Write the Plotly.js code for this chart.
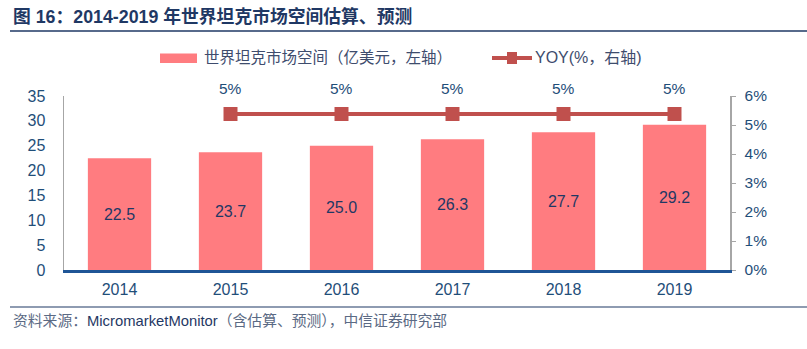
<!DOCTYPE html>
<html>
<head>
<meta charset="utf-8">
<script src="https://cdn.plot.ly/plotly-3.0.1.min.js"></script>
<style>html,body{margin:0;padding:0;background:#fff;}#chart{width:807px;height:349px;}</style>
</head>
<body>
<div id="chart"></div>
<script>
const years = ['2014', '2015', '2016', '2017', '2018', '2019'];
const marketSize = [22.5, 23.7, 25.0, 26.3, 27.7, 29.2];
const yoyYears = ['2015', '2016', '2017', '2018', '2019'];
const yoy = [0.0538, 0.0538, 0.0538, 0.0538, 0.0538];
const leftTicks = [0, 5, 10, 15, 20, 25, 30, 35];
const rightTicks = [0, 0.01, 0.02, 0.03, 0.04, 0.05, 0.06];

const titleText = '图 16：2014-2019 年世界坦克市场空间估算、预测';
const barName = '世界坦克市场空间（亿美元，左轴）';
const lineName = 'YOY(%，右轴)';
const sourceText = '<span style="color:#5b6a84">资料来源：</span>MicromarketMonitor<span style="color:#5b6a84">（含估算、预测），中信证券研究部</span>';

const FONT = 'Liberation Sans, Arial, Noto Sans CJK SC, sans-serif';
const BLUE = '#1F4E79';
const NAVY = '#1F3864';
const BAR = '#FF7C80';
const RED = '#C0504D';

// plot area in pixels
const L = 64, R = 730, T = 96, B = 270, W = 807, H = 349;
const px = x => (x - L) / (R - L);
const py = y => (B - y) / (B - T);

const traces = [
  {
    type: 'bar', x: years, y: marketSize, name: barName,
    marker: {color: BAR}, width: 0.57,
    texttemplate: '%{y:.1f}', textposition: 'inside', insidetextanchor: 'middle',
    textfont: {color: NAVY, size: 16, family: FONT},
    hoverinfo: 'skip', showlegend: false
  },
  {
    type: 'scatter', mode: 'lines+markers', x: yoyYears, y: yoy, yaxis: 'y2', name: lineName,
    line: {color: RED, width: 4},
    marker: {symbol: 'square', size: 14, color: RED},
    hoverinfo: 'skip', showlegend: false
  }
];

const annotations = [];
for (let i = 0; i < yoy.length; i++) {
  annotations.push({
    x: years.indexOf(yoyYears[i]), y: yoy[i], xref: 'x', yref: 'y2', yshift: 25,
    text: Math.round(yoy[i] * 100) + '%', showarrow: false,
    font: {color: BLUE, size: 15.5, family: FONT}
  });
}

annotations.push(
  {xref: 'paper', yref: 'paper', x: px(11), y: py(17), xanchor: 'left', yanchor: 'middle',
   text: '<b>' + titleText + '</b>', showarrow: false,
   font: {size: 17.8, color: NAVY, family: FONT}},
  {xref: 'paper', yref: 'paper', x: px(202), y: py(58), xanchor: 'left', yanchor: 'middle',
   text: barName, showarrow: false, font: {size: 15.5, color: '#3E4C6D', family: FONT}},
  {xref: 'paper', yref: 'paper', x: px(533), y: py(58), xanchor: 'left', yanchor: 'middle',
   text: lineName, showarrow: false, font: {size: 16, color: '#3E4C6D', family: FONT}},
  {xref: 'paper', yref: 'paper', x: px(11), y: py(321), xanchor: 'left', yanchor: 'middle',
   text: sourceText, showarrow: false, font: {size: 14.8, color: NAVY, family: FONT}}
);

const shapes = [
  {type: 'line', xref: 'paper', yref: 'paper', x0: px(10), x1: px(807), y0: py(31), y1: py(31),
   line: {color: NAVY, width: 1.5}},
  {type: 'line', xref: 'paper', yref: 'paper', x0: px(10), x1: px(807), y0: py(307), y1: py(307),
   line: {color: NAVY, width: 1.2}},
  {type: 'rect', xref: 'paper', yref: 'paper', x0: px(160), x1: px(197), y0: py(63), y1: py(53.5),
   fillcolor: BAR, line: {width: 0}},
  {type: 'line', xref: 'paper', yref: 'paper', x0: px(492), x1: px(532), y0: py(58), y1: py(58),
   line: {color: RED, width: 4}},
  {type: 'rect', xref: 'paper', yref: 'paper', x0: px(507), x1: px(517), y0: py(64), y1: py(52),
   fillcolor: RED, line: {width: 0}}
];

const layout = {
  width: W, height: H,
  margin: {l: L, r: W - R, t: T, b: H - B, pad: 0},
  paper_bgcolor: '#fff', plot_bgcolor: '#fff',
  showlegend: false,
  font: {family: FONT, color: BLUE, size: 14},
  xaxis: {
    type: 'category', categoryorder: 'array', categoryarray: years,
    range: [-0.5, years.length - 0.5], autorange: false,
    showgrid: false, zeroline: false,
    showline: true, linecolor: '#1F5596', linewidth: 2.5,
    ticks: '', tickfont: {size: 16, color: BLUE, family: FONT},
    ticklabelstandoff: 3
  },
  yaxis: {
    range: [0, 35], autorange: false, tickvals: leftTicks, showgrid: false, zeroline: false,
    showline: true, linecolor: '#A6A6A6', linewidth: 1.5,
    ticks: '', tickfont: {size: 16, color: BLUE, family: FONT},
    ticklabelstandoff: 14
  },
  yaxis2: {
    overlaying: 'y', side: 'right', range: [0, 0.06], autorange: false, tickvals: rightTicks,
    tickformat: '.0%', showgrid: false, zeroline: false,
    showline: true, linecolor: '#A6A6A6', linewidth: 1.5,
    ticks: 'outside', ticklen: 4, tickcolor: '#A6A6A6', tickwidth: 1,
    tickfont: {size: 15.5, color: BLUE, family: FONT},
    ticklabelstandoff: 6
  },
  annotations: annotations,
  shapes: shapes
};

Plotly.newPlot('chart', traces, layout, {staticPlot: true, displayModeBar: false});
</script>
</body>
</html>
